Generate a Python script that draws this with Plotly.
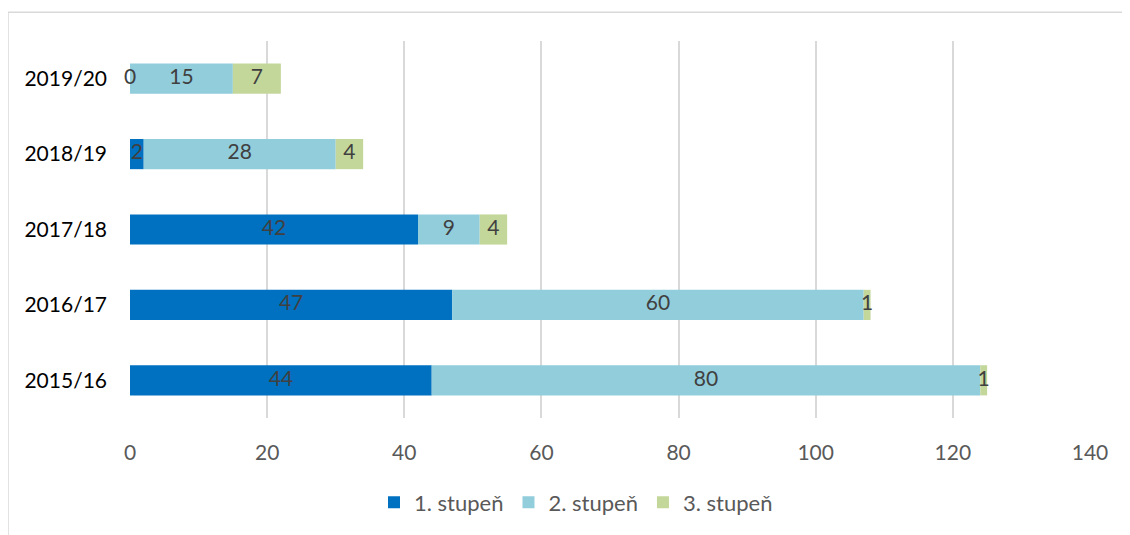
import plotly.graph_objects as go

categories = ["2015/16", "2016/17", "2017/18", "2018/19", "2019/20"]
series_names = ["1. stupeň", "2. stupeň", "3. stupeň"]
s1 = [44, 47, 42, 2, 0]
s2 = [80, 60, 9, 28, 15]
s3 = [1, 1, 4, 4, 7]
colors = ["#0070C0", "#92CDDC", "#C4D79B"]
x_ticks = [0, 20, 40, 60, 80, 100, 120, 140]

FONT = "Lato"
OFF = 8  # browser body margin
W, H = 1130 - OFF, 535 - OFF
L, R, T, B = 130 - OFF, 40, 41 - OFF, 115
pw, ph = W - L - R, H - T - B


def px_x(x):
    return (x - OFF - L) / pw


def px_y(y):
    return (H - B - (y - OFF)) / ph


fig = go.Figure()
series = [s1, s2, s3]
base = [0] * len(categories)
for name, vals, col in zip(series_names, series, colors):
    fig.add_trace(go.Bar(
        y=categories, x=vals, base=base[:], name=name, orientation="h",
        marker=dict(color=col, line=dict(width=0)), width=0.4,
    ))
    mids = [b + v / 2 for b, v in zip(base, vals)]
    fig.add_trace(go.Scatter(
        y=categories, x=mids, mode="text", text=[str(v) for v in vals],
        textfont=dict(family=FONT, size=21, color="#404040"),
        showlegend=False, hoverinfo="skip", cliponaxis=False,
    ))
    base = [b + v for b, v in zip(base, vals)]

fig.update_layout(
    width=W, height=H,
    margin=dict(l=L, r=R, t=T, b=B),
    paper_bgcolor="white", plot_bgcolor="white",
    barmode="overlay",
    font=dict(family=FONT, size=20, color="#595959"),
    xaxis=dict(range=[0, 140], tickvals=x_ticks, showgrid=True,
               gridcolor="#D9D9D9", gridwidth=1.8, zeroline=False,
               showline=False, ticks="", ticklabelstandoff=20,
               tickfont=dict(family=FONT, size=21, color="#595959"),
               fixedrange=True, automargin=False),
    yaxis=dict(categoryorder="array", categoryarray=categories,
               range=[-0.5, 4.5], showgrid=False, zeroline=False,
               showline=False, ticks="", ticklabelstandoff=22,
               tickfont=dict(family=FONT, size=21, color="#000000"),
               fixedrange=True, automargin=False),
    legend=dict(orientation="h", xanchor="center", yanchor="middle",
                x=px_x(576), y=px_y(505),
                font=dict(family=FONT, size=22, color="#595959"),
                itemwidth=30, tracegroupgap=0, traceorder="normal"),
    showlegend=True,
    shapes=[dict(type="rect", xref="paper", yref="paper",
                 x0=px_x(8), x1=px_x(1145),
                 y0=px_y(550), y1=px_y(12),
                 line=dict(color="#D9D9D9", width=1.5), layer="below")],
)

fig.write_html("out.html")
